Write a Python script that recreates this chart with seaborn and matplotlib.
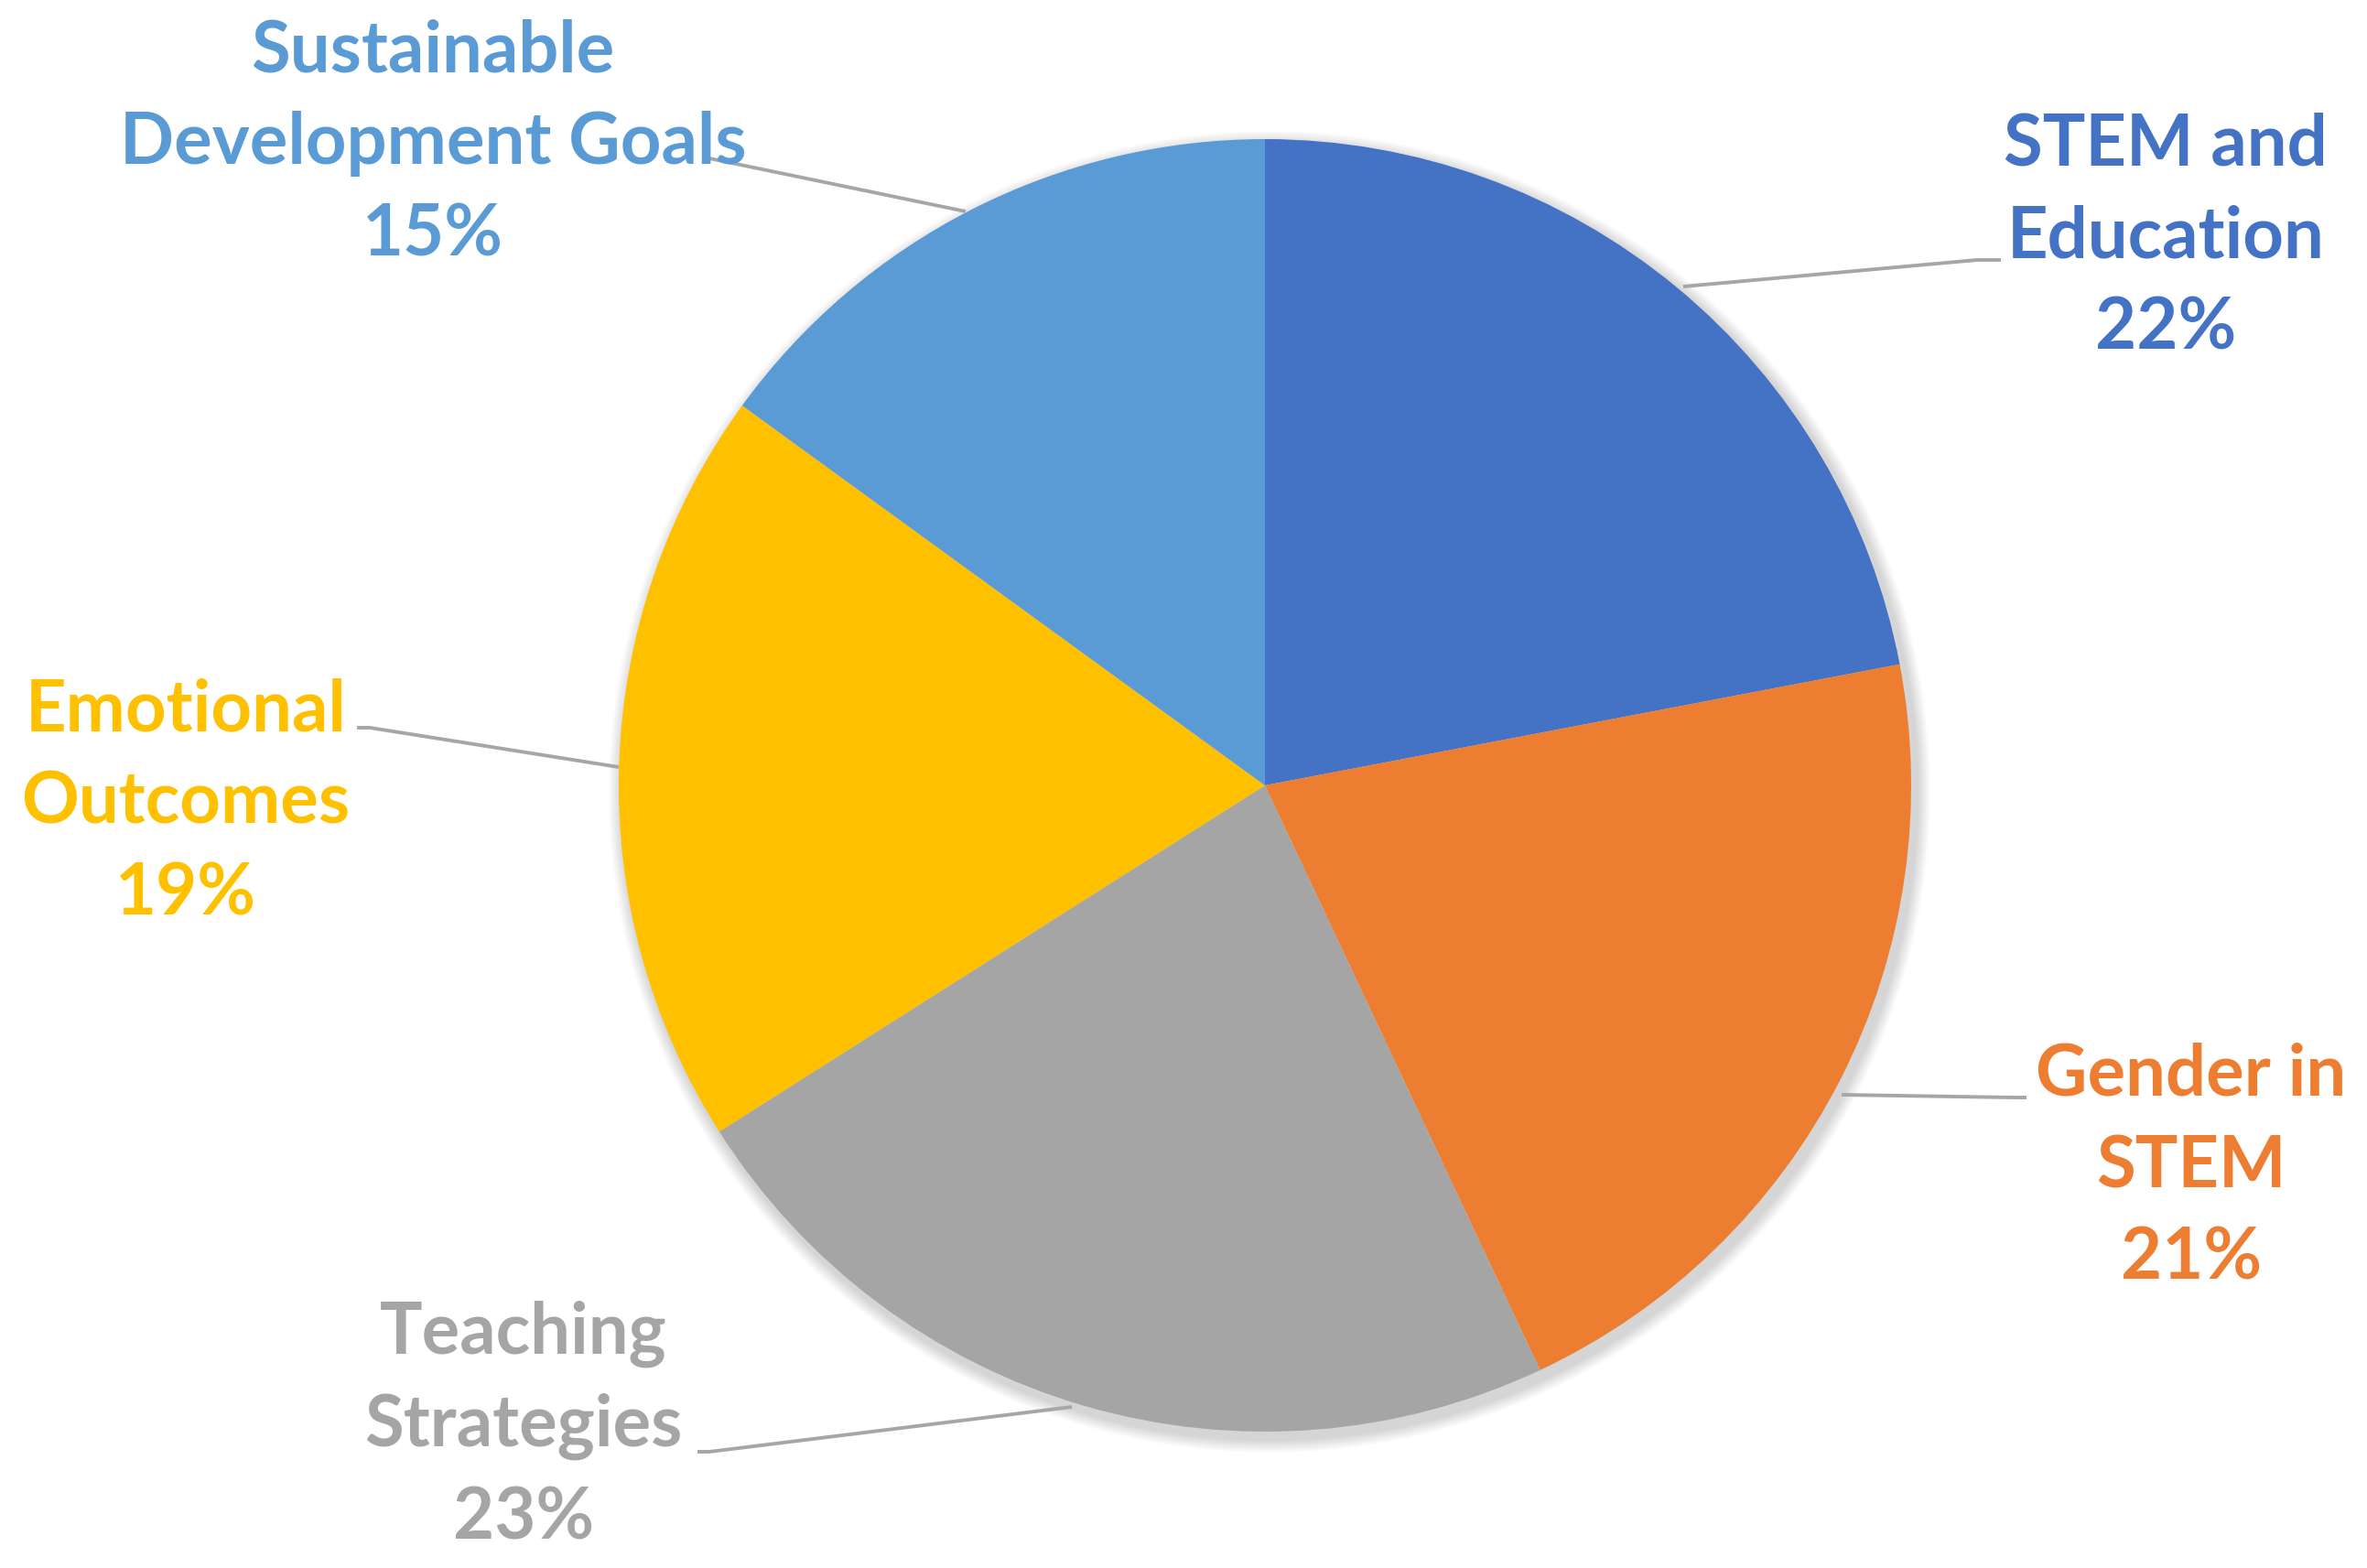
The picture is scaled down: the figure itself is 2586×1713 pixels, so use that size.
import matplotlib.pyplot as plt
import seaborn as sns

# Share of studies per research topic (%)
topics = ['STEM and\nEducation', 'Gender in\nSTEM', 'Teaching\nStrategies',
          'Emotional\nOutcomes', 'Sustainable\nDevelopment Goals']
shares = [22, 21, 23, 19, 15]
colors = ['#4472C4', '#ED7D31', '#A5A5A5', '#FFC000', '#5B9BD5']

sns.set_theme(style='white')
plt.rcParams['font.family'] = ['Lato', 'DejaVu Sans']

W, H = 2586, 1713
fig = plt.figure(figsize=(W / 100, H / 100), dpi=100)
ax = fig.add_axes([0, 0, 1, 1])

cx, cy, r = 1382, H - 858, 706

# soft shadow behind the pie
for k in range(14):
    ax.add_patch(plt.Circle((cx + 5, cy - 7), r + 16 - k, color='black',
                            alpha=0.010, lw=0, zorder=0))

ax.pie(shares, colors=colors, startangle=90, counterclock=False,
       center=(cx, cy), radius=r, frame=True,
       wedgeprops=dict(linewidth=0, zorder=2))

ax.set_xlim(0, W)
ax.set_ylim(0, H)
ax.axis('off')

# label placement (image pixel coords, y down) and leader line points
label_pos = [(2366, 259), (2394, 1275), (572, 1558), (203, 877), (473, 157)]
leaders = [
    [(1839, 313), (2160, 284), (2186, 284)],
    [(2012, 1196), (2200, 1199), (2214, 1199)],
    [(1171, 1537), (775, 1586), (762, 1586)],
    [(676, 838), (404, 795), (390, 795)],
    [(1055, 231), (775, 173), (770, 173)],
]

for name, val, col, (tx, ty), pts in zip(topics, shares, colors, label_pos, leaders):
    xs = [p[0] for p in pts]
    ys = [H - p[1] for p in pts]
    ax.plot(xs, ys, color='#A6A6A6', lw=2.8, zorder=3, solid_capstyle='butt')
    ax.text(tx, H - ty, f'{name}\n{val}%', color=col, fontsize=56,
            fontweight='bold', ha='center', va='center', multialignment='center',
            linespacing=1.49, zorder=4)

plt.savefig('out.png', dpi=100, facecolor='white')
